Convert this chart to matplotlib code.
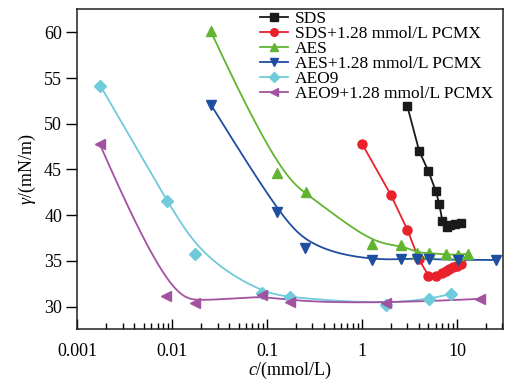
import numpy as np
import matplotlib
matplotlib.use("Agg")
import matplotlib.pyplot as plt

plt.rcParams['font.family'] = ['Liberation Serif', 'DejaVu Serif']
plt.rcParams['mathtext.fontset'] = 'custom'
plt.rcParams['mathtext.rm'] = 'Liberation Serif'
plt.rcParams['mathtext.it'] = 'Liberation Serif:italic'

# data
sds_x = [3.0, 4.0, 5.0, 6.0, 6.5, 7.0, 7.9, 8.5, 9.5, 11.0]
sds_y = [51.9, 47.0, 44.8, 42.6, 41.2, 39.4, 38.7, 38.9, 39.0, 39.1]

sdsp_x = [1.0, 2.0, 3.0, 3.95, 5.0, 6.0, 7.0, 7.7, 8.3, 9.1, 10.0, 11.0]
sdsp_y = [47.8, 42.25, 38.4, 35.2, 33.4, 33.3, 33.7, 33.9, 34.1, 34.3, 34.45, 34.7]

aes_x = [0.0255, 0.126, 0.255, 1.26, 2.55, 3.8, 5.1, 7.7, 10.3, 13.1]
aes_y = [60.1, 44.6, 42.5, 36.85, 36.75, 35.9, 35.85, 35.7, 35.65, 35.8]

aesp_x = [0.0255, 0.127, 0.25, 1.28, 2.55, 3.8, 5.1, 10.2, 26.0]
aesp_y = [52.1, 40.4, 36.4, 35.1, 35.2, 35.25, 35.2, 35.1, 35.1]

aeo_x = [0.00175, 0.0088, 0.0175, 0.088, 0.175, 1.77, 5.1, 8.7]
aeo_y = [54.15, 41.6, 35.8, 31.5, 31.0, 30.2, 30.8, 31.4]

aeop_x = [0.00172, 0.0086, 0.0175, 0.088, 0.175, 1.77, 17.6]
aeop_y = [47.8, 31.2, 30.4, 31.3, 30.5, 30.35, 30.85]

labels = ['SDS', 'SDS+1.28 mmol/L PCMX', 'AES', 'AES+1.28 mmol/L PCMX',
          'AEO9', 'AEO9+1.28 mmol/L PCMX']
colors = ['#1a1a1a', '#e8212b', '#62b530', '#1f4ea1', '#6fcbd9', '#a3529f']
markers = ['s', 'o', '^', 'v', 'D', '<']


def bspline(px, py, num=400):
    # clamped cubic B-spline in (log x, y), like Origin's B-spline connect
    P = np.column_stack([np.log10(px), py])
    n = len(P)
    k = 3
    knots = np.concatenate([[0] * k, np.arange(n - k + 1), [n - k] * k]).astype(float)
    t = np.linspace(0, n - k, num)
    t[-1] -= 1e-9
    N = np.array([((knots[i] <= t) & (t < knots[i + 1])).astype(float)
                  for i in range(len(knots) - 1)])
    for d in range(1, k + 1):
        Nn = np.zeros((len(knots) - 1 - d, len(t)))
        for i in range(len(knots) - 1 - d):
            a = knots[i + d] - knots[i]
            b = knots[i + d + 1] - knots[i + 1]
            term = np.zeros(len(t))
            if a > 0:
                term += (t - knots[i]) / a * N[i]
            if b > 0:
                term += (knots[i + d + 1] - t) / b * N[i + 1]
            Nn[i] = term
        N = Nn
    C = N.T @ P
    return 10 ** C[:, 0], C[:, 1]


fig = plt.figure(figsize=(5.2, 3.86), dpi=100)
ax = fig.add_axes([0.1487, 0.1477, 0.8186, 0.8277])

series = [(sds_x, sds_y, False), (sdsp_x, sdsp_y, False), (aes_x, aes_y, True),
          (aesp_x, aesp_y, True), (aeo_x, aeo_y, True), (aeop_x, aeop_y, True)]
ms = [6, 6.5, 7, 7, 6, 7]
handles = []
for (x, y, smooth), c, m, lab, s in zip(series, colors, markers, labels, ms):
    if smooth:
        cx, cy = bspline(x, y)
        ax.plot(cx, cy, color=c, lw=1.3, zorder=2)
    else:
        ax.plot(x, y, color=c, lw=1.3, zorder=2)
    ax.plot(x, y, ls='none', marker=m, color=c, ms=s, mec=c, zorder=3)
    h, = ax.plot([], [], color=c, lw=1.3, marker=m, ms=s * 0.85, label=lab)
    handles.append(h)

ax.set_xscale('log')
ax.set_xlim(0.001, 30.5)
ax.set_ylim(27.55, 62.5)
ax.set_yticks([30, 35, 40, 45, 50, 55, 60])
ax.set_xticks([0.001, 0.01, 0.1, 1, 10])
ax.set_xticklabels(['0.001', '0.01', '0.1', '1', '10'])
ax.tick_params(axis='x', which='major', direction='in', length=7, width=1, labelsize=13, pad=10)
ax.tick_params(axis='x', which='minor', direction='in', length=4, width=1)
ax.tick_params(axis='y', which='major', direction='out', length=8, width=1, labelsize=13, pad=3)
for sp in ax.spines.values():
    sp.set_linewidth(1.1)
    sp.set_color('#231f20')

ax.set_xlabel(r'$c$/(mmol/L)', fontsize=13, labelpad=0)
ax.set_ylabel(r'$\gamma$/(mN/m)', fontsize=13, labelpad=4)

ax.legend(handles=handles, loc='upper left', bbox_to_anchor=(0.429, 0.997),
          frameon=False, fontsize=12.5, handlelength=1.6, handletextpad=0.4,
          labelspacing=-0.06, borderpad=0, borderaxespad=0)

fig.savefig('out.png', dpi=100)
